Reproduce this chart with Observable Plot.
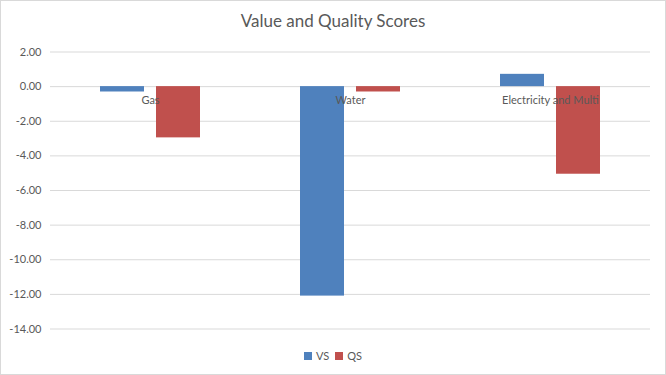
<!DOCTYPE html>
<html>
<head>
<meta charset="utf-8">
<script src="https://cdn.jsdelivr.net/npm/d3@7"></script>
<script src="https://cdn.jsdelivr.net/npm/@observablehq/plot@0.6"></script>
<style>
  html, body { margin: 0; padding: 0; background: #fff; }
  #chart {
    width: 664px; height: 373px; border: 1px solid #d9d9d9;
    font-family: Lato, "Open Sans", sans-serif; color: #595959; overflow: hidden;
  }
  #title { height: 36px; line-height: 30px; padding-top: 5px; box-sizing: border-box; text-align: center; font-size: 17px; }
  #legend { height: 27px; display: flex; justify-content: center; align-items: flex-start; padding-top: 2px; box-sizing: border-box; font-size: 11px; }
  .item { display: flex; align-items: center; margin: 0 3px; }
  .sw { width: 8px; height: 8px; margin-right: 4px; display: inline-block; }
  svg { display: block; }
</style>
</head>
<body>
<div id="chart">
  <div id="title">Value and Quality Scores</div>
  <div id="plot"></div>
  <div id="legend"></div>
</div>
<script>
const categories = ["Gas", "Water", "Electricity and Multi"];
const series = ["VS", "QS"];
const vsValues = [-0.31, -12.10, 0.71];
const qsValues = [-2.96, -0.31, -5.06];
const colors = ["#4f81bd", "#c0504d"];
const yTicks = [2, 0, -2, -4, -6, -8, -10, -12, -14];

const data = [];
categories.forEach((c, i) => {
  data.push({category: c, series: "VS", value: vsValues[i]});
  data.push({category: c, series: "QS", value: qsValues[i]});
});

const plot = Plot.plot({
  width: 664,
  height: 310,
  marginLeft: 49,
  marginRight: 15,
  marginTop: 14.5,
  marginBottom: 18.5,
  style: {fontFamily: "Lato, 'Open Sans', sans-serif", fontSize: "11px", color: "#595959", background: "#fff"},
  fx: {domain: categories, axis: null, paddingInner: 0, paddingOuter: 0, label: null},
  x: {domain: series, axis: null, paddingInner: 0.21, paddingOuter: 0.86},
  y: {domain: [-14, 2], axis: null},
  color: {domain: series, range: colors},
  marks: [
    Plot.gridY(yTicks, {stroke: "#d9d9d9", strokeOpacity: 1, strokeWidth: 1}),
    Plot.axisY(yTicks, {tickSize: 0, tickPadding: 9, tickFormat: d => d.toFixed(2), label: null, fontSize: 11}),
    Plot.barY(data, {fx: "category", x: "series", y: "value", fill: "series"}),
    Plot.text(categories, {fx: d => d, y: d => 0, text: d => d, dy: 14, fontSize: 11, fill: "#595959"})
  ]
});
document.getElementById("plot").appendChild(plot);

const legend = document.getElementById("legend");
series.forEach((s, i) => {
  const item = document.createElement("span");
  item.className = "item";
  const sw = document.createElement("span");
  sw.className = "sw";
  sw.style.background = colors[i];
  item.appendChild(sw);
  item.appendChild(document.createTextNode(s));
  legend.appendChild(item);
});
</script>
</body>
</html>
